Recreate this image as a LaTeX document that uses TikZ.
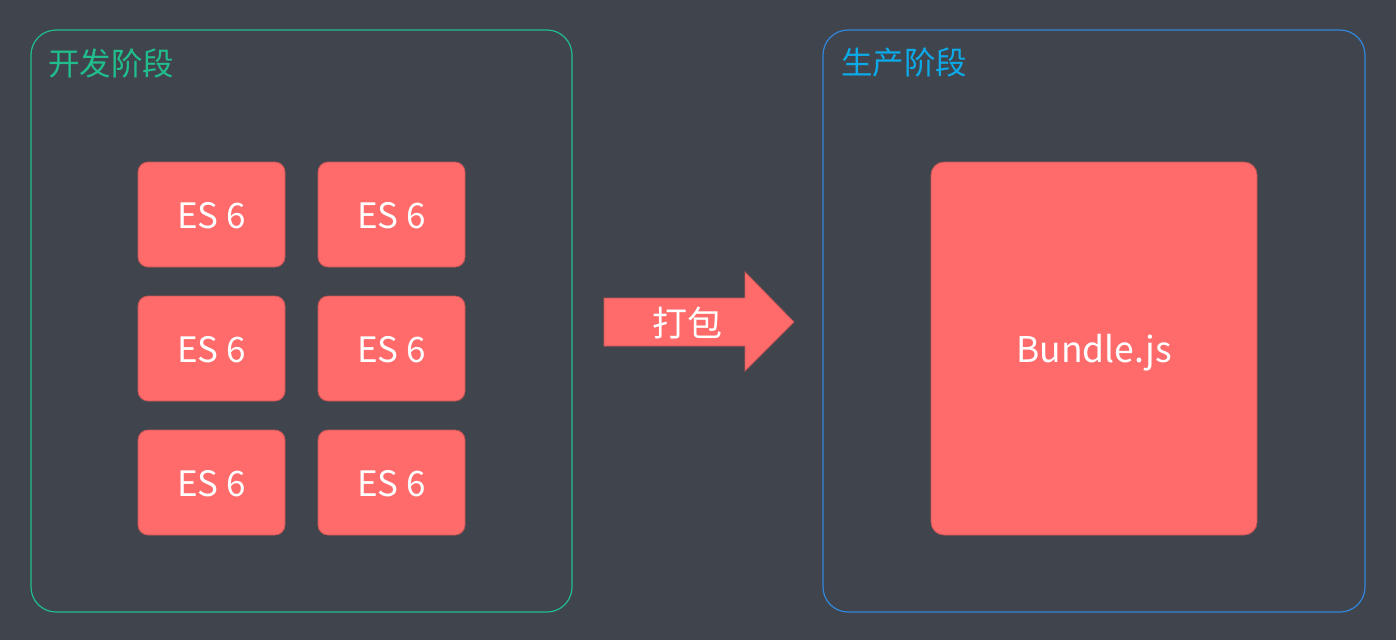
\documentclass[tikz,border=0pt]{standalone}
\usepackage{fontspec}
\setmainfont{Noto Sans CJK SC}
\usetikzlibrary{positioning}
\definecolor{bgdark}{RGB}{64,68,77}
\definecolor{devgreen}{RGB}{32,190,140}
\definecolor{prodblue}{RGB}{50,135,220}
\definecolor{prodtext}{RGB}{12,170,232}
\definecolor{boxred}{RGB}{255,107,107}
\definecolor{boxline}{RGB}{200,85,85}
\newcommand{\lowtext}[2]{\raisebox{-#1}[\height][\depth]{#2}}
\tikzset{
  frame/.style={rectangle, rounded corners=25pt, line width=1.2pt,
    inner sep=0pt},
  title/.style={anchor=west, inner sep=0pt, font=\fontsize{31.5}{36}\selectfont},
  esbox/.style={rectangle, draw=boxline, fill=boxred, rounded corners=10pt,
    minimum width=147pt, minimum height=105pt, inner sep=0pt, line width=0.8pt,
    text=white, font=\fontsize{35}{40}\selectfont},
  bundlebox/.style={esbox, rounded corners=13pt,
    minimum width=326pt, minimum height=373pt, font=\fontsize{35.5}{40}\selectfont},
  packarrow/.style={fill=boxred, draw=boxline, line width=0.8pt},
  packlabel/.style={text=white, inner sep=0pt, font=\fontsize{35}{40}\selectfont}
}
\begin{document}
\begin{tikzpicture}[x=1pt, y=-1pt]
  \fill[bgdark] (0,0) rectangle (1396,640);
  \useasboundingbox (0,0) rectangle (1396,640);
  % stages
  \node[frame, draw=devgreen, minimum width=541pt, minimum height=582pt] (dev) at (301.5,321) {};
  \node[frame, draw=prodblue, minimum width=542pt, minimum height=582pt] (prod) at (1094,321) {};
  \node[title, text=devgreen] (devtitle) at (48,63) {开发阶段};
  \node[title, text=prodtext] (prodtitle) at (841,63) {生产阶段};
  % source modules
  \foreach \r/\y in {1/214.5, 2/348.5, 3/482.5}
    \foreach \c/\x in {1/211.5, 2/391.5}
      \node[esbox] (es-\r-\c) at (\x,\y) {\lowtext{1.5pt}{ES 6}};
  % bundle
  \node[bundlebox] (bundle) at (1094,348.5) {\lowtext{4pt}{Bundle.js}};
  % pack arrow
  \draw[packarrow] (604,298) -- (745,298) -- (745,272) -- (794,322)
    -- (745,371) -- (745,346) -- (604,346) -- cycle;
  \node[packlabel] (pack) at (687,323) {打包};
\end{tikzpicture}
\end{document}
